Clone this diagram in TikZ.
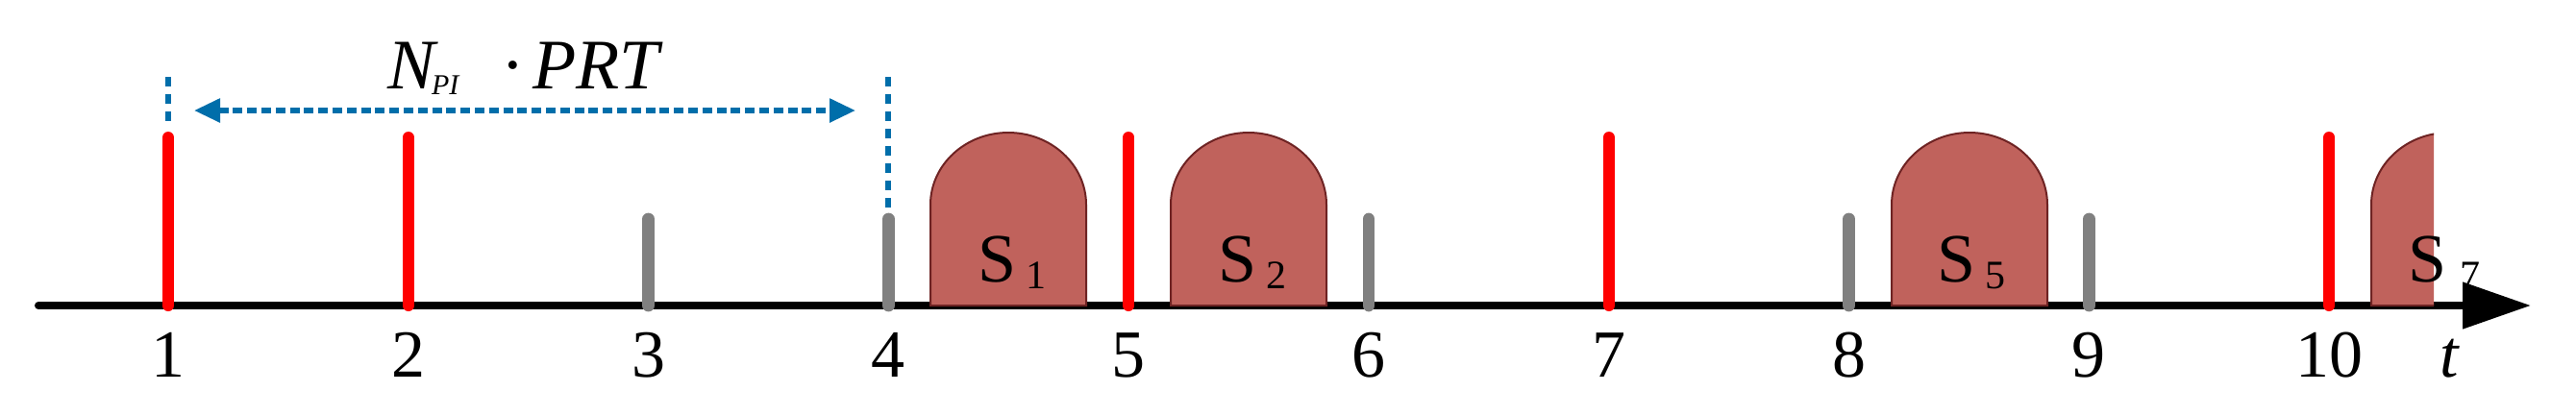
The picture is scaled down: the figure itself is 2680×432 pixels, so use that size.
\documentclass[tikz,border=0pt]{standalone}
\usepackage{fontspec}
\setmainfont{Liberation Serif}
\usetikzlibrary{arrows.meta,calc}
\definecolor{pulsered}{RGB}{255,0,0}
\definecolor{pulsegray}{RGB}{128,128,128}
\definecolor{blockfill}{RGB}{192,98,92}
\definecolor{blockedge}{RGB}{110,35,35}
\definecolor{dashblue}{RGB}{0,110,170}
\begin{document}
\begin{tikzpicture}[x=0.25pt,y=-0.25pt,
  redpulse/.style={line width=3pt,color=pulsered,line cap=round},
  graypulse/.style={line width=3.2pt,color=pulsegray,line cap=round},
  axisline/.style={line width=2pt,line cap=round},
  axisarrow/.style={line width=2pt,-{Triangle[length=17.75pt,width=11.75pt]}},
  blueguide/.style={line width=1.3pt,color=dashblue,dash pattern=on 2.5pt off 2pt},
  bluespan/.style={line width=1.4pt,color=dashblue,dash pattern=on 2.5pt off 1.2pt,
    {Triangle[length=6.75pt,width=6pt]}-{Triangle[length=6.75pt,width=6pt]}},
  echo/.style={fill=blockfill,draw=blockedge,line width=0.5pt},
  ticklabel/.style={anchor=base,font=\fontsize{17.5}{17.5}\selectfont,inner sep=0pt},
  echolabel/.style={anchor=base west,font=\fontsize{18}{18}\selectfont,inner sep=0pt},
  toplabel/.style={anchor=base west,font=\fontsize{18.5}{18.5}\selectfont\itshape,inner sep=0pt},
  echoblock/.pic={
    \path[echo] (-81,0) -- (-81,-105)
      .. controls (-81,-146.4) and (-44.7,-180) .. (0,-180)
      .. controls (44.7,-180) and (81,-146.4) .. (81,-105)
      -- (81,0) -- cycle;
  }
]
\useasboundingbox (0,0) rectangle (2680,432);

% axis
\coordinate (axstart) at (40,318);
\coordinate (axmid) at (2545,318);
\coordinate (axend) at (2633,318);
\draw[axisline] (axstart) -- (axmid);

% pulse positions
\foreach \k in {1,...,10}{
  \coordinate (p\k) at ({175+(\k-1)*249.8},318);
}

% echo blocks
\pic at (1049,318) {echoblock};
\pic at (1299,318) {echoblock};
\pic at (2049,318) {echoblock};
\begin{scope}
  \clip (2400,100) rectangle (2532,330);
  \pic at (2548,318) {echoblock};
\end{scope}

% red pulses
\foreach \k in {1,2,5,7,10}{
  \draw[redpulse] (p\k) -- ++(0,-175);
}
% gray pulses
\foreach \k in {3,4,6,8,9}{
  \draw[graypulse] (p\k) -- ++(0,-90);
}

% echo labels
\node[echolabel] (s1) at (1017,293) {S\kern2.5pt\raisebox{-1.75pt}{\fontsize{10.5}{10.5}\selectfont 1}};
\node[echolabel] (s2) at (1267,293) {S\kern2.5pt\raisebox{-1.75pt}{\fontsize{10.5}{10.5}\selectfont 2}};
\node[echolabel] (s5) at (2015,293) {S\kern2.5pt\raisebox{-1.75pt}{\fontsize{10.5}{10.5}\selectfont 5}};
\node[echolabel] (s7) at (2505,293) {S\kern3.5pt\raisebox{-1.75pt}{\fontsize{10.5}{10.5}\selectfont 7}};

% axis arrow head on top
\draw[axisarrow] (axmid) -- (axend);

% tick labels
\foreach \k in {1,...,10}{
  \node[ticklabel] (l\k) at ($(p\k)+(0,74)$) {\k};
}
\node[ticklabel,font=\fontsize{17.5}{17.5}\selectfont\itshape] (tl) at (2548,392) {t};

% N_PI * PRT span
\coordinate (g1top) at (175,80);
\coordinate (g1bot) at (175,128);
\coordinate (g4top) at (924,80);
\coordinate (g4bot) at (924,222);
\draw[blueguide] (g1top) -- (g1bot);
\draw[blueguide] (g4top) -- (g4bot);
\coordinate (spanl) at (202,115);
\coordinate (spanr) at (890,115);
\draw[bluespan] (spanl) -- (spanr);
\node[toplabel] (npi) at (403,92) {N\kern-1pt\raisebox{-1.6pt}{\fontsize{7.5}{7.5}\selectfont PI}\kern11pt{\upshape ·}\kern2pt PRT};
\end{tikzpicture}
\end{document}
